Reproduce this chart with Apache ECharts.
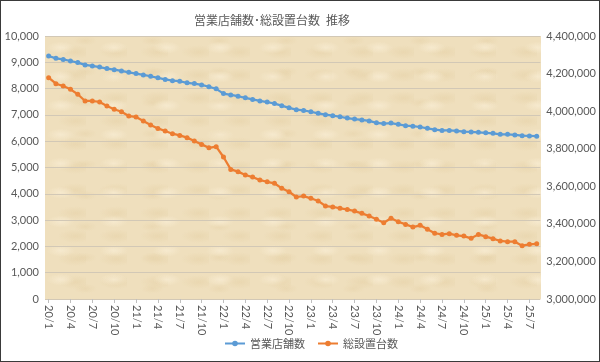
<!DOCTYPE html>
<html><head><meta charset="utf-8">
<script src="https://cdn.jsdelivr.net/npm/echarts@6/dist/echarts.min.js"></script>
<style>
html,body{margin:0;padding:0;background:#fff;}
#wrap{position:absolute;left:0;top:0;width:598px;height:360px;border:1px solid #3a3a3a;background:#fff;overflow:hidden;}
#paper{position:absolute;left:44px;top:35px;width:496px;height:263px;
  background-color:#efdfbd;
  background-image:
    radial-gradient(ellipse 14px 6px at 30% 40%, rgba(248,236,210,0.8), rgba(248,236,210,0) 100%),
    radial-gradient(ellipse 18px 7px at 75% 70%, rgba(230,210,168,0.6), rgba(230,210,168,0) 100%),
    radial-gradient(ellipse 12px 5px at 60% 15%, rgba(230,210,168,0.5), rgba(230,210,168,0) 100%);
  background-size: 53px 29px, 41px 23px, 67px 31px;
}
#c{position:absolute;left:0;top:0;width:598px;height:360px;}
</style></head>
<body><div id="wrap"><div id="paper"></div><div id="c"></div></div>
<script>
const titleText = '営業店舗数･総設置台数\u2002推移';
const seriesNames = ['営業店舗数', '総設置台数'];
const months = [];
for (let y = 20; y <= 25; y++) {
  for (let m = 1; m <= 12; m++) {
    if (y === 25 && m > 8) break;
    months.push(y + '/' + m);
  }
}
const stores = [
  9240, 9150, 9110, 9050, 8990, 8900, 8860, 8820, 8760, 8720, 8670, 8620,
  8570, 8520, 8470, 8410, 8350, 8300, 8280, 8220, 8190, 8140, 8070, 7990,
  7810, 7760, 7710, 7650, 7590, 7530, 7490, 7430, 7350, 7270, 7200, 7170,
  7120, 7060, 7010, 6970, 6930, 6880, 6840, 6810, 6770, 6700, 6670, 6690,
  6640, 6590, 6570, 6540, 6490, 6440, 6410, 6410, 6390, 6360, 6350, 6340,
  6320, 6300, 6260, 6260, 6240, 6210, 6200, 6190
];
const machines = [
  4178000, 4146000, 4134000, 4116000, 4090000, 4054000, 4054000, 4049000, 4027000, 4010000, 3997000, 3974000,
  3969000, 3947000, 3926000, 3908000, 3894000, 3880000, 3871000, 3859000, 3841000, 3823000, 3805000, 3811000,
  3756000, 3690000, 3678000, 3660000, 3649000, 3633000, 3624000, 3616000, 3589000, 3571000, 3543000, 3548000,
  3536000, 3522000, 3495000, 3490000, 3483000, 3477000, 3468000, 3456000, 3442000, 3424000, 3406000, 3430000,
  3411000, 3397000, 3383000, 3392000, 3371000, 3350000, 3344000, 3348000, 3339000, 3335000, 3323000, 3344000,
  3332000, 3321000, 3309000, 3305000, 3305000, 3284000, 3291000, 3294000
];

const chart = echarts.init(document.getElementById('c'), null, {renderer: 'canvas'});
const numFont = 'Lato, "Noto Sans CJK JP", sans-serif';
const jpFont = '"Noto Sans CJK JP", sans-serif';
const fmt = v => v.toLocaleString('en-US');
chart.setOption({
  animation: false,
  backgroundColor: 'transparent',
  title: {
    text: titleText, left: 188, top: 8,
    textStyle: {fontFamily: jpFont, fontSize: 12, fontWeight: 'normal', color: '#595959'}
  },
  legend: {
    bottom: 7, left: 218, itemWidth: 20, itemHeight: 7, itemGap: 12,
    textStyle: {fontFamily: jpFont, fontSize: 11, color: '#595959'},
    data: seriesNames
  },
  grid: {
    left: 44, right: 58, top: 35, bottom: 62,
    show: false
  },
  xAxis: {
    type: 'category', data: months, boundaryGap: true,
    axisLine: {show: false},
    axisTick: {show: true, interval: 2, length: 4, alignWithLabel: true, lineStyle: {color: '#bfbfbf'}},
    axisLabel: {interval: 2, rotate: -90, fontFamily: numFont, fontSize: 11, color: '#595959', margin: 6}
  },
  yAxis: [
    {
      type: 'value', min: 0, max: 10000, interval: 1000,
      axisLine: {show: false}, axisTick: {show: false},
      splitLine: {lineStyle: {color: '#d2c8b6', width: 1}},
      axisLabel: {formatter: fmt, fontFamily: numFont, fontSize: 11, color: '#595959', margin: 6}
    },
    {
      type: 'value', min: 3000000, max: 4400000, interval: 200000,
      axisLine: {show: false}, axisTick: {show: false},
      splitLine: {show: false},
      axisLabel: {formatter: fmt, fontFamily: numFont, fontSize: 11, color: '#595959', margin: 6}
    }
  ],
  series: [
    {
      name: seriesNames[0], type: 'line', yAxisIndex: 0, data: stores,
      symbol: 'circle', symbolSize: 5, showAllSymbol: true,
      lineStyle: {color: '#5b9bd5', width: 2.25},
      itemStyle: {color: '#5b9bd5'}
    },
    {
      name: seriesNames[1], type: 'line', yAxisIndex: 1, data: machines,
      symbol: 'circle', symbolSize: 5, showAllSymbol: true,
      lineStyle: {color: '#ed7d31', width: 2.25},
      itemStyle: {color: '#ed7d31'}
    }
  ]
});
</script></body></html>
